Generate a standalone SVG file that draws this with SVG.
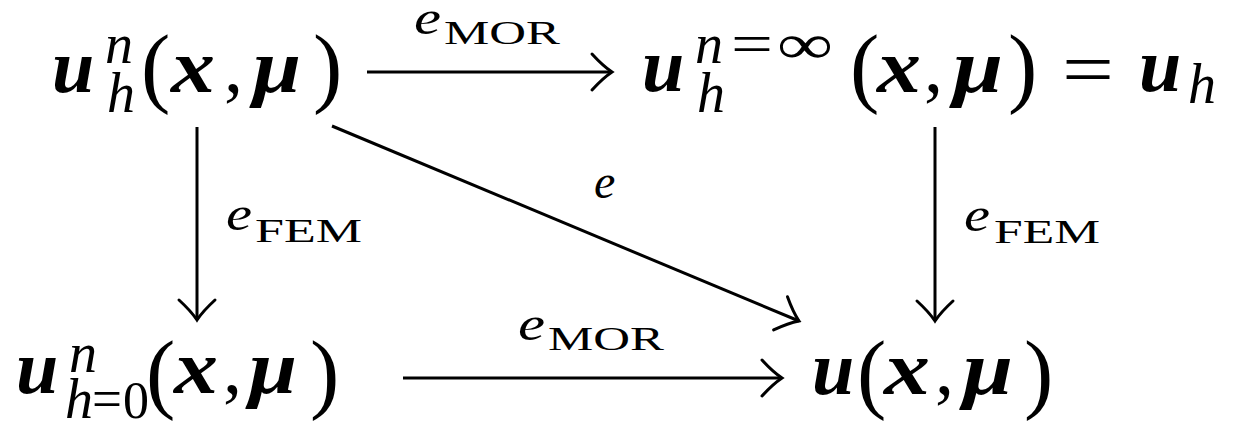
<svg xmlns="http://www.w3.org/2000/svg" width="1242" height="421" viewBox="0 0 1242 421">
<style>
text{font-family:"Liberation Serif","DejaVu Serif",serif;fill:#000}
.bi{font-style:italic;font-weight:bold;font-size:76px}
.sc{font-style:italic;font-size:56px}
.sr{font-style:normal;font-weight:normal;font-size:56px}
.pa{font-style:normal;font-weight:normal;font-size:88px}
.rm{font-style:normal;font-weight:normal;font-size:76px}
.le{font-style:italic;font-size:48px}
.ls{font-style:normal;font-size:34px}
.conn{fill:none;stroke:#000;stroke-width:3;marker-end:url(#arr)}
</style>
<defs>
<marker id="arr" viewBox="-24 -22 28 44" refX="0" refY="0" markerWidth="28" markerHeight="44" markerUnits="userSpaceOnUse" orient="auto" overflow="visible">
<path d="M-20,-18 Q-9,-6 0,0 Q-9,6 -20,18" fill="none" stroke="#000" stroke-width="3" stroke-linecap="round"/>
</marker>
</defs>
<g id="connectors">
<line class="conn" x1="367" y1="72" x2="612" y2="72"/>
<line class="conn" x1="403" y1="378" x2="782" y2="378"/>
<line class="conn" x1="197" y1="127" x2="197" y2="320"/>
<line class="conn" x1="935" y1="127" x2="935" y2="321"/>
<line class="conn" x1="332" y1="126" x2="799" y2="321"/>
<text><tspan class="le" x="414" y="34" textLength="27" lengthAdjust="spacingAndGlyphs">e</tspan><tspan class="ls" x="444" y="44" textLength="116" lengthAdjust="spacingAndGlyphs">MOR</tspan></text>
<text><tspan class="le" x="518" y="340" textLength="27" lengthAdjust="spacingAndGlyphs">e</tspan><tspan class="ls" x="548" y="350" textLength="116" lengthAdjust="spacingAndGlyphs">MOR</tspan></text>
<text><tspan class="le" x="226" y="230" textLength="26" lengthAdjust="spacingAndGlyphs">e</tspan><tspan class="ls" x="255" y="242" textLength="107" lengthAdjust="spacingAndGlyphs">FEM</tspan></text>
<text><tspan class="le" x="964" y="231" textLength="26" lengthAdjust="spacingAndGlyphs">e</tspan><tspan class="ls" x="994" y="243" textLength="106" lengthAdjust="spacingAndGlyphs">FEM</tspan></text>
<text class="le" x="594" y="198">e</text>
</g>
<g id="node-top-left">
<text><tspan class="bi" x="52" y="92">u</tspan><tspan class="sc" x="105" y="63">n</tspan><tspan class="sc" x="107" y="112">h</tspan><tspan class="pa" x="141" y="96">(</tspan><tspan class="bi" x="171" y="92" textLength="44" lengthAdjust="spacingAndGlyphs">x</tspan><tspan class="rm" x="224" y="92">,</tspan><tspan class="bi" x="253" y="92" textLength="48" lengthAdjust="spacingAndGlyphs">μ</tspan><tspan class="pa" x="313" y="96">)</tspan></text>
</g>
<g id="node-top-right">
<text><tspan class="bi" x="642" y="91">u</tspan><tspan class="sc" x="695" y="63">n</tspan><tspan class="sr" x="731" y="63" textLength="42" lengthAdjust="spacingAndGlyphs">=</tspan><tspan class="sr" x="777" y="63" textLength="56" lengthAdjust="spacingAndGlyphs">∞</tspan><tspan class="sc" x="697" y="112">h</tspan><tspan class="pa" x="850" y="96">(</tspan><tspan class="bi" x="877" y="92" textLength="44" lengthAdjust="spacingAndGlyphs">x</tspan><tspan class="rm" x="924" y="92">,</tspan><tspan class="bi" x="953" y="92" textLength="50" lengthAdjust="spacingAndGlyphs">μ</tspan><tspan class="pa" x="1008" y="96">)</tspan><tspan class="rm" x="1062" y="95" textLength="52" lengthAdjust="spacingAndGlyphs">=</tspan><tspan class="bi" x="1139" y="91">u</tspan><tspan class="sc" x="1188" y="103">h</tspan></text>
</g>
<g id="node-bottom-left">
<text><tspan class="bi" x="16" y="393">u</tspan><tspan class="sc" x="69" y="372">n</tspan><tspan class="sc" x="65" y="418">h</tspan><tspan class="sr" x="92" y="418" textLength="30" lengthAdjust="spacingAndGlyphs">=</tspan><tspan class="sr" x="123" y="418" style="font-size:52px">0</tspan><tspan class="pa" x="146" y="402">(</tspan><tspan class="bi" x="174" y="393" textLength="44" lengthAdjust="spacingAndGlyphs">x</tspan><tspan class="rm" x="223" y="393">,</tspan><tspan class="bi" x="249" y="393" textLength="48" lengthAdjust="spacingAndGlyphs">μ</tspan><tspan class="pa" x="310" y="402">)</tspan></text>
</g>
<g id="node-bottom-right">
<text><tspan class="bi" x="812" y="394">u</tspan><tspan class="pa" x="857" y="402">(</tspan><tspan class="bi" x="884" y="394" textLength="46" lengthAdjust="spacingAndGlyphs">x</tspan><tspan class="rm" x="935" y="394">,</tspan><tspan class="bi" x="963" y="394" textLength="50" lengthAdjust="spacingAndGlyphs">μ</tspan><tspan class="pa" x="1024" y="402">)</tspan></text>
</g>
</svg>
